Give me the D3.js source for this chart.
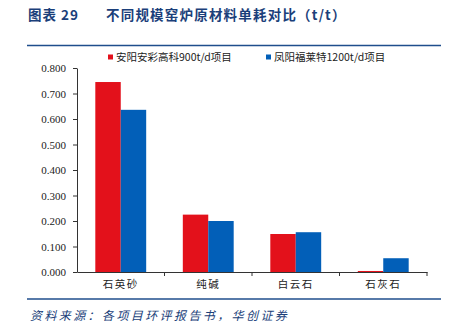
<!DOCTYPE html>
<html>
<head>
<meta charset="utf-8">
<script src="https://cdn.jsdelivr.net/npm/d3@7"></script>
<style>
  html, body { margin: 0; padding: 0; background: #fff; }
  svg { display: block; }
</style>
</head>
<body>
<svg id="chart" width="450" height="332"></svg>
<script>
// Raw material consumption per tonne of glass (t/t)
const categories = ["石英砂", "纯碱", "白云石", "石灰石"];
const seriesNames = ["安阳安彩高科900t/d项目", "凤阳福莱特1200t/d项目"];
const anyangValues = [0.745, 0.225, 0.149, 0.004];
const fengyangValues = [0.636, 0.200, 0.156, 0.054];
const yTicks = [0, 0.1, 0.2, 0.3, 0.4, 0.5, 0.6, 0.7, 0.8];

const colors = ["#E3111B", "#025FB8"];
const series = [anyangValues, fengyangValues];

const svg = d3.select("#chart");
const cjk = "'Noto Sans CJK SC', sans-serif";
const serif = "'Liberation Serif', 'Times New Roman', serif";

// Header
svg.append("text")
  .attr("x", 28).attr("y", 20)
  .style("font-family", cjk).style("font-weight", "bold")
  .style("font-size", "13.5px").style("letter-spacing", "1px").attr("fill", "#1B3F7A")
  .text("图表 29");
svg.append("text")
  .attr("x", 106).attr("y", 20)
  .style("font-family", cjk).style("font-weight", "bold")
  .style("font-size", "13.5px").style("letter-spacing", "1.2px").attr("fill", "#1B3F7A")
  .text("不同规模窑炉原材料单耗对比（t/t）");

svg.append("line").attr("x1", 27).attr("x2", 441).attr("y1", 45.5).attr("y2", 45.5)
  .attr("stroke", "#1F4E8C").attr("stroke-width", 1.6);
svg.append("line").attr("x1", 27).attr("x2", 441).attr("y1", 299).attr("y2", 299)
  .attr("stroke", "#1F4E8C").attr("stroke-width", 1.6);

// Scales
const x0 = d3.scaleBand().domain(categories).range([77, 427]).paddingInner(0).paddingOuter(0);
const x1 = d3.scaleBand().domain(d3.range(seriesNames.length))
  .range([0, x0.bandwidth()]).paddingOuter(0.72).paddingInner(0);
const y = d3.scaleLinear().domain([0, 0.8]).range([272, 68]);

// Bars
categories.forEach((cat, i) => {
  series.forEach((vals, s) => {
    svg.append("rect")
      .attr("x", x0(cat) + x1(s))
      .attr("y", y(vals[i]))
      .attr("width", x1.bandwidth())
      .attr("height", y(0) - y(vals[i]))
      .attr("fill", colors[s]);
  });
});

// Y axis
const yAxis = d3.axisLeft(y).tickValues(yTicks).tickFormat(d3.format(".3f")).tickSize(4).tickSizeOuter(0);
const gy = svg.append("g").attr("transform", "translate(77,0)").call(yAxis);
gy.attr("font-family", null);
gy.selectAll("text").style("font-family", serif).style("font-size", "11px").attr("fill", "#222").attr("x", -11);
gy.selectAll("line").attr("stroke", "#333");
gy.select(".domain").attr("stroke", "#333");

// X axis
const xAxis = d3.axisBottom(x0).tickSize(0).tickSizeOuter(0);
const gx = svg.append("g").attr("transform", "translate(0,272)").call(xAxis);
gx.attr("font-family", null);
gx.select(".domain").attr("stroke", "#333");
gx.selectAll("text").style("font-family", cjk).style("font-size", "10.5px").style("letter-spacing", "1.5px")
  .attr("fill", "#222").attr("dy", "1.2em").attr("y", 3);
// category separators
svg.append("g").selectAll("line")
  .data(categories.slice(1).map(c => x0(c)).concat([x0.range()[1]]))
  .join("line")
  .attr("x1", d => d).attr("x2", d => d)
  .attr("y1", 272).attr("y2", 276)
  .attr("stroke", "#333");

// Legend
const legendX = [108, 266];
seriesNames.forEach((name, s) => {
  const g = svg.append("g").attr("transform", `translate(${legendX[s]},0)`);
  g.append("rect").attr("x", 0).attr("y", 54.5).attr("width", 5).attr("height", 5).attr("fill", colors[s]);
  g.append("text").attr("x", 8).attr("y", 61)
    .style("font-family", cjk).style("font-size", "10.5px").attr("fill", "#222")
    .text(name);
});

// Source note
svg.append("text")
  .attr("x", 30).attr("y", 320)
  .style("font-family", cjk).style("font-style", "italic")
  .style("font-size", "12px").style("letter-spacing", "2.4px").attr("fill", "#1B3F7A")
  .text("资料来源：各项目环评报告书，华创证券");
</script>
</body>
</html>
